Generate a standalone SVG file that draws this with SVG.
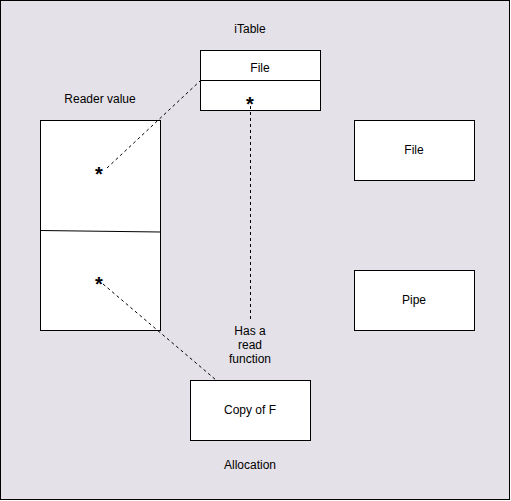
<svg xmlns="http://www.w3.org/2000/svg" width="511" height="501" viewBox="0 0 511 501">
<style>
.box{fill:#fff;stroke:#000;stroke-width:1}
.t{font-family:"Liberation Sans",Arial,sans-serif;font-size:12px;fill:#000;text-anchor:middle}
.star{font-family:"Liberation Sans",Arial,sans-serif;font-size:20px;font-weight:bold;fill:#000;text-anchor:middle}
.dash{fill:none;stroke:#000;stroke-width:1;stroke-dasharray:3 3}
</style>
<rect x="0.5" y="0.5" width="509" height="499" fill="#e4e1e8" stroke="#000" stroke-width="1"/>
<g id="itable">
<text class="t" x="250" y="33">iTable</text>
<rect class="box" x="200.5" y="50.5" width="120" height="60"/>
<line x1="200.5" y1="80.5" x2="320.5" y2="80.5" stroke="#000"/>
<text class="t" x="260" y="72">File</text>
<text class="star" x="250" y="111">*</text>
</g>
<g id="reader">
<text class="t" x="100" y="103">Reader value</text>
<rect class="box" x="40.5" y="120.5" width="120" height="210"/>
<line x1="40.5" y1="230.5" x2="160.5" y2="232" stroke="#000"/>
<text class="star" x="99" y="181">*</text>
<text class="star" x="99" y="291">*</text>
</g>
<g id="file">
<rect class="box" x="354.5" y="120.5" width="120" height="60"/>
<text class="t" x="414" y="154">File</text>
</g>
<g id="pipe">
<rect class="box" x="354.5" y="270.5" width="120" height="60"/>
<text class="t" x="414" y="304">Pipe</text>
</g>
<g id="copy">
<rect class="box" x="190.5" y="380.5" width="120" height="60"/>
<text class="t" x="250" y="414">Copy of F</text>
</g>
<g id="labels">
<text class="t" x="250" y="335">Has a</text>
<text class="t" x="250" y="349">read</text>
<text class="t" x="250" y="363">function</text>
<text class="t" x="250" y="469">Allocation</text>
</g>
<g id="connectors">
<line class="dash" x1="107" y1="168" x2="200" y2="81"/>
<line class="dash" x1="250.5" y1="106" x2="250.5" y2="320"/>
<line class="dash" x1="103" y1="284" x2="216" y2="380"/>
</g>
</svg>
